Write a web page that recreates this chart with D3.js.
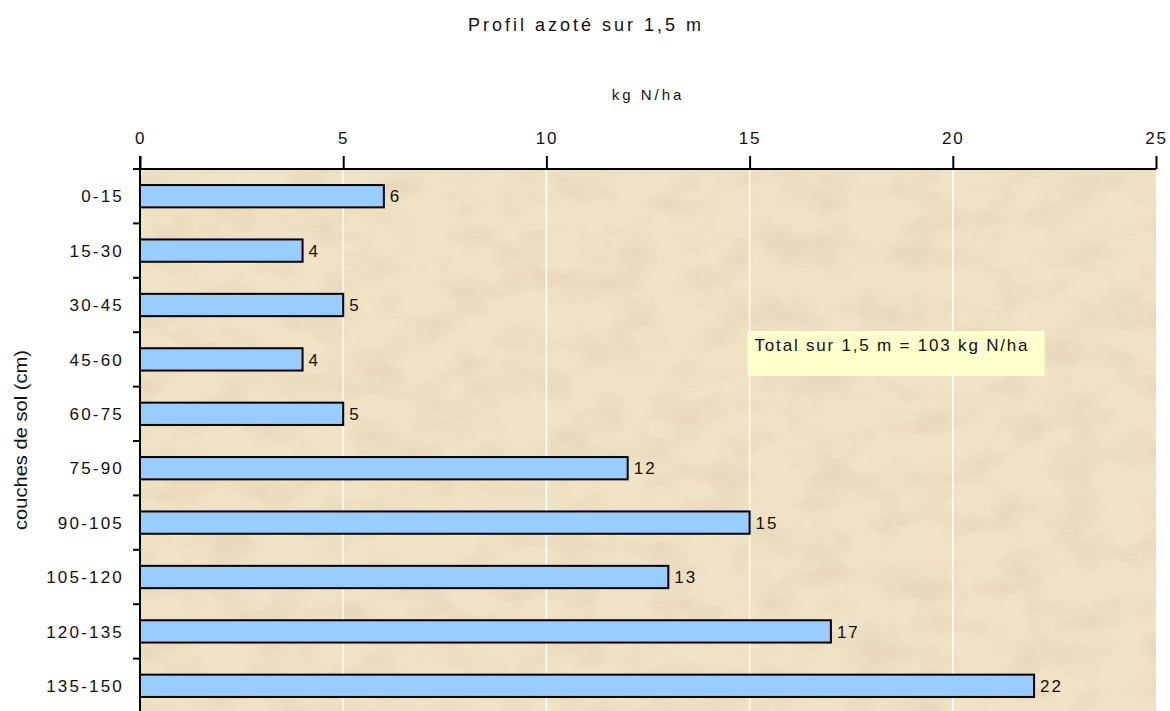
<!DOCTYPE html>
<html><head><meta charset="utf-8">
<script src="https://cdn.jsdelivr.net/npm/d3@7"></script>
<style>body{margin:0;background:#fff;} text{font-family:"Liberation Sans",Arial,sans-serif;fill:#111;}</style>
</head><body><svg id="c" width="1170" height="711"></svg>
<script>
const categories = ["0-15","15-30","30-45","45-60","60-75","75-90","90-105","105-120","120-135","135-150"];
const values = [6,4,5,4,5,12,15,13,17,22];
const xTicks = [0,5,10,15,20,25];
const title = "Profil azoté sur 1,5 m";
const xTitle = "kg N/ha";
const yTitle = "couches de sol (cm)";
const note = "Total sur 1,5 m = 103 kg N/ha";

const svg = d3.select("#c");
const L=140, R=1156, T=169, B=713;
const x = d3.scaleLinear().domain([0,25]).range([L,R]);
const y = d3.scaleBand().domain(categories).range([T,B]).paddingInner(0.59).paddingOuter(0.295);

const defs = svg.append("defs");
const f = defs.append("filter").attr("id","sand").attr("x",0).attr("y",0).attr("width","100%").attr("height","100%");
f.append("feTurbulence").attr("type","fractalNoise").attr("baseFrequency","0.02 0.03").attr("numOctaves",5).attr("seed",11).attr("result","n");
f.append("feColorMatrix").attr("in","n").attr("type","matrix")
 .attr("values","0 0 0 0 0.82  0 0 0 0 0.69  0 0 0 0 0.50  3.4 0 0 0 -1.45").attr("result","c");
f.append("feComposite").attr("in","c").attr("in2","SourceGraphic").attr("operator","in");

svg.append("rect").attr("x",L).attr("y",T).attr("width",R-L).attr("height",B-T).attr("fill","#f0e2c4");
svg.append("rect").attr("x",L).attr("y",T).attr("width",R-L).attr("height",B-T).attr("fill","#f0e2c4").attr("filter","url(#sand)").attr("opacity",0.8);

// gridlines
svg.append("g").selectAll("line").data(xTicks.filter(d=>d>0&&d<25)).join("line")
 .attr("x1",d=>x(d)).attr("x2",d=>x(d)).attr("y1",T).attr("y2",B)
 .attr("stroke","#fff").attr("stroke-width",1.5);

// annotation box
svg.append("rect").attr("x",x(14.95)).attr("y",331).attr("width",297).attr("height",45).attr("fill","#ffffcc");
svg.append("text").attr("x",x(14.95)+7).attr("y",351).attr("font-size",17).style("letter-spacing","1.8px").text(note);

// bars
svg.append("g").selectAll("rect").data(values).join("rect")
 .attr("x",x(0)).attr("y",(d,i)=>y(categories[i])).attr("width",d=>x(d)-x(0)).attr("height",y.bandwidth())
 .attr("fill","#99ccff").attr("stroke","#000").attr("stroke-width",2);
svg.append("g").selectAll("text").data(values).join("text")
 .attr("x",d=>x(d)+6).attr("y",(d,i)=>y(categories[i])+y.bandwidth()/2).attr("dy","0.36em")
 .attr("font-size",17).style("letter-spacing","2px").text(d=>d);

// top axis
const xa = svg.append("g").attr("transform",`translate(0,${T})`)
 .call(d3.axisTop(x).tickValues(xTicks).tickSize(7).tickPadding(0).tickFormat(d3.format("d")));
xa.select(".domain").attr("stroke","#000").attr("stroke-width",2).attr("d",`M${L},0H${R}`);
xa.selectAll(".tick line").attr("stroke","#000").attr("stroke-width",2).attr("y2",-13);
xa.selectAll(".tick text").attr("y",-25).attr("font-size",17).style("letter-spacing","1.8px").attr("font-family","Liberation Sans, Arial, sans-serif").attr("fill","#111");

// left axis
const ya = svg.append("g").attr("transform",`translate(${L},0)`);
ya.append("line").attr("x1",0).attr("x2",0).attr("y1",T-13).attr("y2",B).attr("stroke","#000").attr("stroke-width",2);
const step = y.step();
ya.selectAll("line.t").data(d3.range(categories.length)).join("line").attr("class","t")
 .attr("x1",-7).attr("x2",0).attr("y1",i=>T+i*step).attr("y2",i=>T+i*step).attr("stroke","#000").attr("stroke-width",2);
ya.selectAll("text").data(categories).join("text")
 .attr("x",-16).attr("y",d=>y(d)+y.bandwidth()/2).attr("dy","0.36em").attr("text-anchor","end")
 .attr("font-size",17).style("letter-spacing","2.2px").text(d=>d);

// titles
svg.append("text").attr("x",586).attr("y",31).attr("text-anchor","middle").attr("font-size",18).style("letter-spacing","3px").text(title);
svg.append("text").attr("x",x(12.5)).attr("y",100).attr("text-anchor","middle").attr("font-size",15).style("letter-spacing","3px").text(xTitle);
svg.append("text").attr("transform",`translate(27,440) rotate(-90)`).attr("text-anchor","middle").attr("font-size",19)
 .attr("textLength",180).attr("lengthAdjust","spacingAndGlyphs").text(yTitle);
</script></body></html>
